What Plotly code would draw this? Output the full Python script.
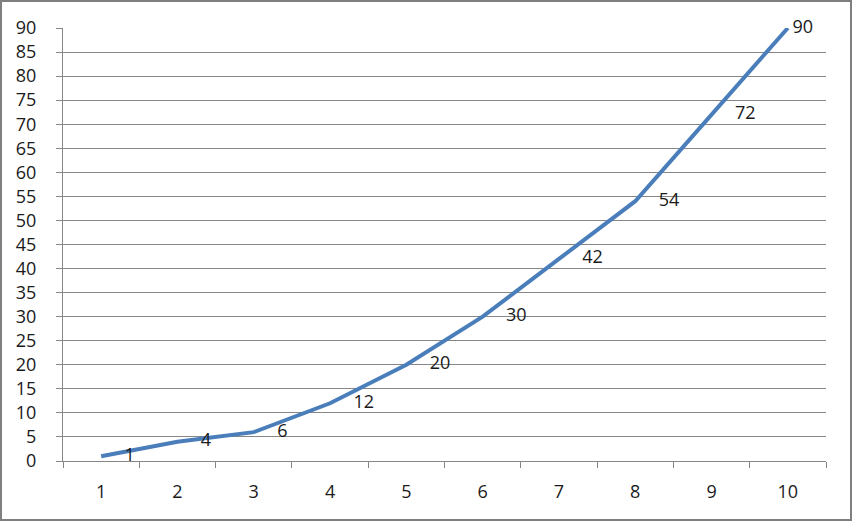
import plotly.graph_objects as go

x_vals = [1, 2, 3, 4, 5, 6, 7, 8, 9, 10]
y_vals = [1, 4, 6, 12, 20, 30, 42, 54, 72, 90]
y_ticks = list(range(0, 91, 5))

LINE_COLOR = "#4A7EBB"
GRID_COLOR = "#868686"
FONT = "Open Sans"

# Excel-style "right" labels; the last one is squeezed against the frame
labels = ["     " + str(v) for v in y_vals[:-1]] + [" " + str(y_vals[-1])]

fig = go.Figure(
    go.Scatter(
        x=x_vals,
        y=y_vals,
        mode="lines+text",
        text=labels,
        textposition="middle right",
        textfont=dict(family=FONT, size=18, color="#1a1a1a"),
        line=dict(color=LINE_COLOR, width=4),
        cliponaxis=False,
    )
)

W, H = 853, 522
L, R, T, B = 63, 27, 28, 61
pw, ph = W - L - R, H - T - B

# outer chart frame
fig.add_shape(
    type="rect", xref="paper", yref="paper",
    x0=(1 - L) / pw, x1=(W - 2 - L) / pw,
    y0=(H - B - (H - 2)) / ph, y1=(H - B - 1) / ph,
    line=dict(color="#7f7f7f", width=2),
)

fig.update_layout(
    width=W, height=H,
    margin=dict(l=L, r=R, t=T, b=B),
    paper_bgcolor="white", plot_bgcolor="white",
    showlegend=False,
    font=dict(family=FONT, size=18, color="#1a1a1a"),
    xaxis=dict(
        range=[0.5, 10.5],
        tickvals=x_vals,
        ticks="",
        showgrid=False,
        showline=True, linecolor=GRID_COLOR, linewidth=1,
        zeroline=False,
        ticklabelstandoff=14,
        minor=dict(ticks="outside", tick0=0.5, dtick=1, ticklen=6, tickcolor=GRID_COLOR, showgrid=False),
    ),
    yaxis=dict(
        range=[0, 90],
        tickvals=y_ticks,
        ticks="outside", ticklen=6, tickcolor=GRID_COLOR,
        showgrid=True, gridcolor=GRID_COLOR, gridwidth=1,
        showline=True, linecolor=GRID_COLOR, linewidth=1,
        zeroline=False,
        ticklabelstandoff=16,
    ),
)

fig.write_html(
    "out.html",
    config={"displayModeBar": False},
    post_script="document.body.style.margin='0';",
)
